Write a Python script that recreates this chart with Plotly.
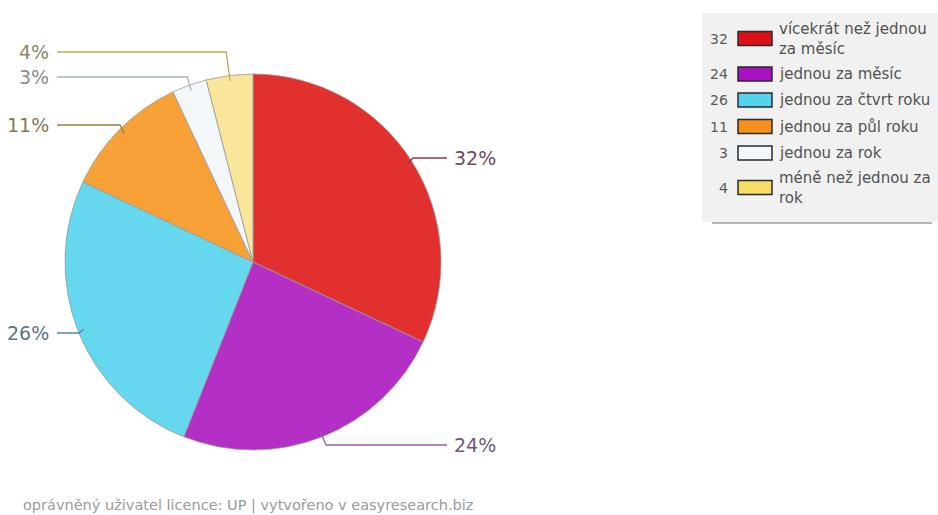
import math
import plotly.graph_objects as go

# Survey answers: how often, and how many respondents (%)
categories = [
    "vícekrát než jednou za měsíc",
    "jednou za měsíc",
    "jednou za čtvrt roku",
    "jednou za půl roku",
    "jednou za rok",
    "méně než jednou za rok",
]
legend_labels = [
    "vícekrát než jednou<br>za měsíc",
    "jednou za měsíc",
    "jednou za čtvrt roku",
    "jednou za půl roku",
    "jednou za rok",
    "méně než jednou za<br>rok",
]
values = [32, 24, 26, 11, 3, 4]

# Styling
slice_colors = ["#E2302F", "#B42FC6", "#65D7EF", "#F8A136", "#F3F7FA", "#F9E69A"]
swatch_colors = ["#DD0F17", "#A812C0", "#55D3EC", "#F98F1C", "#F2F8FC", "#F7DC66"]
line_colors = ["#8C3A4A", "#9A5AA8", "#55869A", "#9C7E3A", "#A9B2BA", "#B8AE5A"]
text_colors = ["#6E4B5B", "#6C5A78", "#5E7480", "#857A55", "#8C8C8C", "#8C8A64"]

W, H = 938, 515
FONT = "DejaVu Sans, Verdana, sans-serif"

# Pie geometry in pixels
cx, cy, R = 253, 262, 188

def px(x):
    return x / W

def py(y):
    return 1 - y / H

fig = go.Figure()
fig.add_trace(go.Pie(
    labels=categories,
    values=values,
    sort=False,
    direction="clockwise",
    rotation=0,
    marker=dict(colors=slice_colors, line=dict(color="#999999", width=0.8)),
    textinfo="none",
    hoverinfo="label+value+percent",
    showlegend=False,
    domain=dict(x=[px(cx - R), px(cx + R)], y=[py(cy + R), py(cy - R)]),
))

# Label placement: side of the pie and vertical pixel position of each label
label_side = ["right", "right", "left", "left", "left", "left"]
label_y = [158, 445, 333, 125, 77, 52]

shapes = []
annotations = []
total = sum(values)
cum = 0
for i, v in enumerate(values):
    mid = (cum + v / 2) / total * 2 * math.pi
    cum += v
    ax = cx + 0.97 * R * math.sin(mid)
    ay = cy - 0.97 * R * math.cos(mid)
    ly = label_y[i]
    pct = f"{round(v / total * 100)}%"
    if label_side[i] == "right":
        ex = ax + 6
        end_x = 447
        tx, anchor = 452, "left"
    else:
        ex = ax - 4
        end_x = 57
        tx, anchor = 51, "right"
    path = f"M {px(ax)},{py(ay)} L {px(ex)},{py(ly)} L {px(end_x)},{py(ly)}"
    shapes.append(dict(type="path", xref="paper", yref="paper", path=path,
                       line=dict(color=line_colors[i], width=1.3)))
    annotations.append(dict(x=px(tx), y=py(ly), xref="paper", yref="paper",
                            text=pct, showarrow=False, xanchor=anchor, yanchor="middle",
                            font=dict(family=FONT, size=19, color=text_colors[i])))

# Legend panel with a soft shadow along its bottom edge
lx0, ly0, lx1, ly1 = 702, 13, 945, 222
shapes.append(dict(type="rect", xref="paper", yref="paper",
                   x0=px(712), x1=px(932), y0=py(ly1 + 2), y1=py(ly1 - 1),
                   fillcolor="#B4B4B4", line=dict(width=0), layer="above"))
shapes.append(dict(type="rect", xref="paper", yref="paper",
                   x0=px(lx0), x1=px(lx1), y0=py(ly1), y1=py(ly0),
                   fillcolor="#F1F1F1", line=dict(width=0), layer="above"))

legend_rows = [38.5, 74, 100, 126.5, 153, 187.5]
for i, v in enumerate(values):
    yc = legend_rows[i]
    shapes.append(dict(type="rect", xref="paper", yref="paper",
                       x0=px(738), x1=px(772), y0=py(yc + 7), y1=py(yc - 7),
                       fillcolor=swatch_colors[i], line=dict(color="#2A2A2A", width=1.5),
                       layer="above"))
    annotations.append(dict(x=px(730), y=py(yc), xref="paper", yref="paper",
                            text=str(v), showarrow=False, xanchor="right", yanchor="middle",
                            font=dict(family=FONT, size=14, color="#5A5A5A")))
    annotations.append(dict(x=px(777), y=py(yc), xref="paper", yref="paper",
                            text=legend_labels[i], showarrow=False, xanchor="left",
                            yanchor="middle", align="left",
                            font=dict(family=FONT, size=15, color="#525252")))

# Footer
annotations.append(dict(x=px(21), y=py(505), xref="paper", yref="paper",
                        text="oprávněný uživatel licence: UP | vytvořeno v easyresearch.biz",
                        showarrow=False, xanchor="left", yanchor="middle",
                        font=dict(family=FONT, size=14.5, color="#9A9A9A")))

fig.update_layout(
    width=W, height=H,
    margin=dict(l=0, r=0, t=0, b=0),
    paper_bgcolor="white",
    plot_bgcolor="white",
    shapes=shapes,
    annotations=annotations,
    showlegend=False,
)

fig.write_html("out.html")
